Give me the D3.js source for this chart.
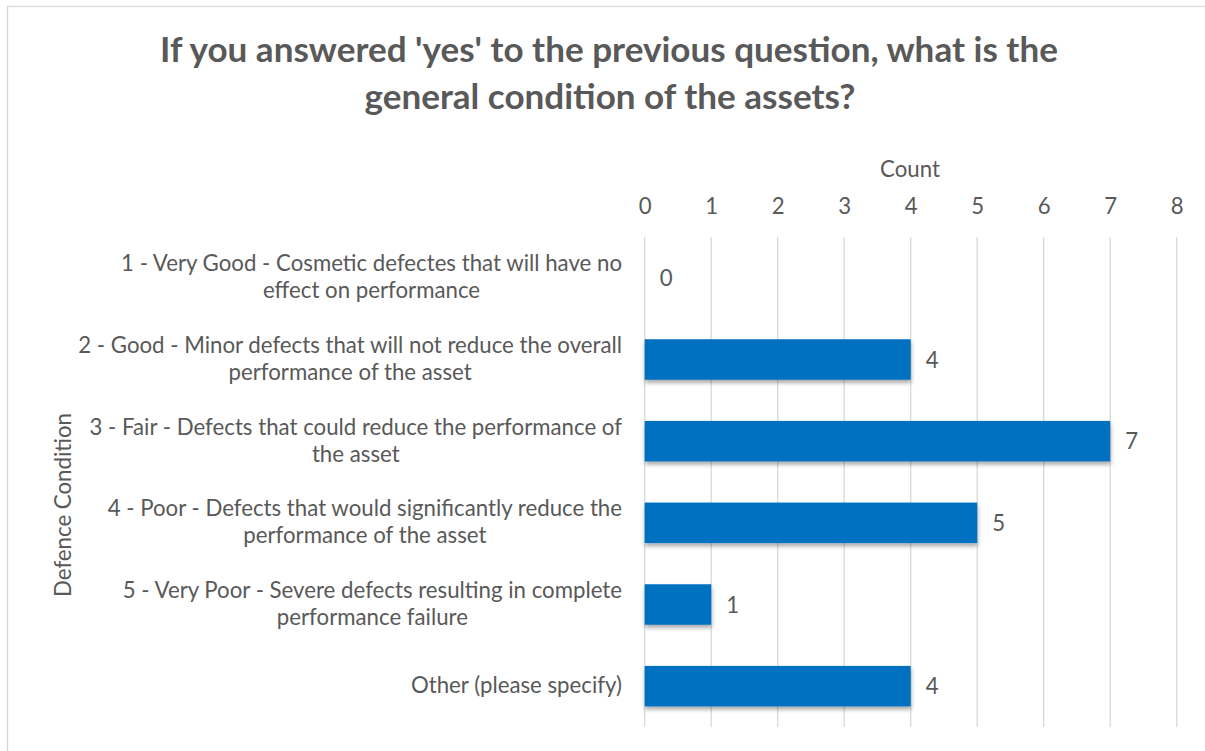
<!DOCTYPE html>
<html>
<head>
<meta charset="utf-8">
<script src="https://cdn.jsdelivr.net/npm/d3@7"></script>
<style>
  html, body { margin: 0; padding: 0; background: #fff; }
  svg { display: block; }
  text { font-family: "Lato", "Open Sans", sans-serif; fill: #595959; }
</style>
</head>
<body>
<svg id="chart" width="1205" height="751"></svg>
<script>
// Survey responses: condition of defence assets
const titleLines = ["If you answered 'yes' to the previous question, what is the", "general condition of the assets?"];
const categories = [
  ["1 - Very Good - Cosmetic defectes that will have no", "effect on performance"],
  ["2 - Good - Minor defects that will not reduce the overall", "performance of the asset"],
  ["3 - Fair - Defects that could reduce the performance of", "the asset"],
  ["4 - Poor - Defects that would significantly reduce the", "performance of the asset"],
  ["5 - Very Poor - Severe defects resulting in complete", "performance failure"],
  ["Other (please specify)"]
];
const counts = [0, 4, 7, 5, 1, 4];
const xTicks = [0, 1, 2, 3, 4, 5, 6, 7, 8];
const xTitle = "Count";
const yTitle = "Defence Condition";

const svg = d3.select("#chart");
const W = 1205, H = 751;
const plot = { left: 644.7, right: 1176.7, top: 237, bottom: 727 };

// Outer chart frame
svg.append("rect")
  .attr("x", 7.5).attr("y", 6.5)
  .attr("width", W + 10).attr("height", H + 10)
  .attr("fill", "#fff").attr("stroke", "#d9d9d9").attr("stroke-width", 1.3);

// Soft shadow under the bars
const defs = svg.append("defs");
const f = defs.append("filter").attr("id", "barShadow")
  .attr("x", "-10%").attr("y", "-30%").attr("width", "120%").attr("height", "170%");
f.append("feDropShadow").attr("dx", 0.5).attr("dy", 3).attr("stdDeviation", 2)
  .attr("flood-color", "#000").attr("flood-opacity", 0.35);

const x = d3.scaleLinear().domain([0, 8]).range([plot.left, plot.right]);
const idx = categories.map((d, i) => i);
const y = d3.scaleBand().domain(idx).range([plot.top, plot.bottom]).paddingInner(0.504).paddingOuter(0.252);

// Fit a text element's font size so its rendered width hits a target
function fitWidth(sel, target) {
  const node = sel.node();
  const fs = parseFloat(sel.attr("font-size"));
  const w = node.getComputedTextLength();
  sel.attr("font-size", fs * target / w);
  return fs * target / w;
}

// Title
const t1 = svg.append("text").attr("x", 609).attr("y", 62)
  .attr("text-anchor", "middle").attr("font-weight", "bold").attr("font-size", 30)
  .text(titleLines[0]);
const titleSize = fitWidth(t1, 898);
svg.append("text").attr("x", 610).attr("y", 109)
  .attr("text-anchor", "middle").attr("font-weight", "bold").attr("font-size", titleSize)
  .text(titleLines[1]);

// Body text size, derived from the widest category line
const labelSize = (() => {
  const probe = svg.append("text").attr("font-size", 19).text(categories[1][0]);
  const s = fitWidth(probe, 544);
  probe.remove();
  return s;
})();

// Vertical gridlines
svg.append("g").selectAll("line").data(xTicks).join("line")
  .attr("x1", d => x(d)).attr("x2", d => x(d))
  .attr("y1", plot.top).attr("y2", plot.bottom)
  .attr("stroke", "#d9d9d9").attr("stroke-width", 1.3);

// Top axis
const axis = svg.append("g").attr("transform", `translate(0,${plot.top})`)
  .call(d3.axisTop(x).tickValues(xTicks).tickFormat(d3.format("d")).tickSize(0).tickPadding(23));
axis.select(".domain").remove();
axis.selectAll("text").attr("font-size", labelSize).attr("fill", "#595959")
  .style("font-family", "Lato, 'Open Sans', sans-serif");

svg.append("text").attr("x", 910).attr("y", 177)
  .attr("text-anchor", "middle").attr("font-size", labelSize).text(xTitle);

// Bars
svg.append("g").selectAll("rect").data(counts).join("rect")
  .attr("x", x(0))
  .attr("y", (d, i) => y(i))
  .attr("width", d => x(d) - x(0))
  .attr("height", y.bandwidth())
  .attr("fill", "#0070c0")
  .attr("filter", d => d > 0 ? "url(#barShadow)" : null);

// Value labels
svg.append("g").selectAll("text").data(counts).join("text")
  .attr("x", d => x(d) + 15)
  .attr("y", (d, i) => y(i) + y.bandwidth() / 2 + 8)
  .attr("font-size", labelSize)
  .text(d => d);

// Category labels: centred lines, block right-aligned against the axis
const lineH = 27;
const labelRight = 622;
categories.forEach((lines, i) => {
  const g = svg.append("g");
  const cy = y(i) + y.bandwidth() / 2;
  const texts = lines.map((l, k) => g.append("text")
    .attr("font-size", labelSize)
    .attr("text-anchor", "middle")
    .attr("y", cy - (lines.length - 1) * lineH / 2 + k * lineH + 7)
    .text(l));
  const maxW = d3.max(texts, t => t.node().getComputedTextLength());
  texts.forEach(t => t.attr("x", labelRight - maxW / 2));
});

// Vertical axis title
svg.append("text")
  .attr("transform", "translate(71,505) rotate(-90)")
  .attr("text-anchor", "middle").attr("font-size", labelSize)
  .text(yTitle);
</script>
</body>
</html>
